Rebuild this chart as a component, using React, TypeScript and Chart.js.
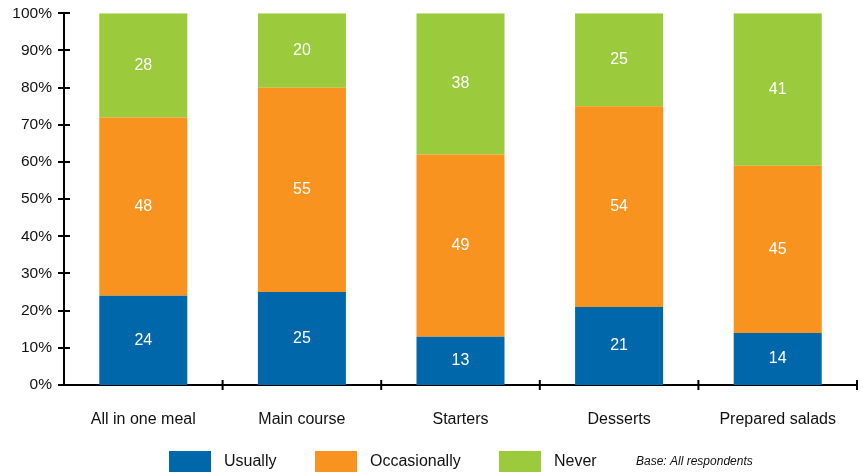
import React, { useEffect, useRef } from "react";
import { Chart, registerables } from "chart.js";

Chart.register(...registerables);

const categories = ["All in one meal", "Main course", "Starters", "Desserts", "Prepared salads"];
const seriesNames = ["Usually", "Occasionally", "Never"];
const usually = [24, 25, 13, 21, 14];
const occasionally = [48, 55, 49, 54, 45];
const never = [28, 20, 38, 25, 41];
const colors = ["#0167AB", "#F7931E", "#9BCA3C"];
const yTickValues = [0, 10, 20, 30, 40, 50, 60, 70, 80, 90, 100];
const footnote = "Base: All respondents";

const FONT = "'Liberation Sans', Arial, Helvetica, sans-serif";

const axisPlugin = {
  id: "axisTicks",
  afterDraw(chart: any) {
    const ctx = chart.ctx;
    const { left, bottom } = chart.chartArea;
    const ys = chart.scales.y;
    const xs = chart.scales.x;
    ctx.save();
    ctx.strokeStyle = "#000";
    ctx.lineWidth = 2;
    ys.ticks.forEach((t: any) => {
      const py = Math.round(ys.getPixelForValue(t.value));
      ctx.beginPath();
      ctx.moveTo(left - 6, py);
      ctx.lineTo(left + 6, py);
      ctx.stroke();
    });
    const n = categories.length;
    for (let i = 1; i <= n; i++) {
      const px = xs.left + (i * (xs.right - xs.left)) / n;
      ctx.beginPath();
      ctx.moveTo(px, bottom - 5);
      ctx.lineTo(px, bottom + 5);
      ctx.stroke();
    }
    ctx.restore();
  },
};

const labelPlugin = {
  id: "segLabels",
  afterDatasetsDraw(chart: any) {
    const ctx = chart.ctx;
    ctx.save();
    ctx.fillStyle = "#fff";
    ctx.font = `16px ${FONT}`;
    ctx.textAlign = "center";
    ctx.textBaseline = "middle";
    chart.data.datasets.forEach((ds: any, di: number) => {
      const meta = chart.getDatasetMeta(di);
      meta.data.forEach((el: any, i: number) => {
        const v = ds.data[i];
        ctx.fillText(String(v), el.x, (el.y + el.base) / 2);
      });
    });
    ctx.restore();
  },
};

const legendPlugin = {
  id: "customLegend",
  afterDraw(chart: any) {
    const ctx = chart.ctx;
    const boxX = [169, 315, 499];
    const y = 451;
    ctx.save();
    chart.data.datasets.forEach((ds: any, i: number) => {
      ctx.fillStyle = ds.backgroundColor;
      ctx.fillRect(boxX[i], y, 42, 21);
      ctx.fillStyle = "#111";
      ctx.font = `16px ${FONT}`;
      ctx.textAlign = "left";
      ctx.textBaseline = "middle";
      ctx.fillText(ds.label, boxX[i] + 55, y + 11);
    });
    ctx.font = `italic 12px ${FONT}`;
    ctx.fillStyle = "#111";
    ctx.textBaseline = "middle";
    ctx.fillText(footnote, 636, y + 11);
    ctx.restore();
  },
};

export default function App() {
  const ref = useRef<HTMLCanvasElement>(null);
  useEffect(() => {
    document.body.style.margin = "0";
    const values = [usually, occasionally, never];
    const chart = new Chart(ref.current!, {
      type: "bar",
      data: {
        labels: categories,
        datasets: seriesNames.map((name, i) => ({
          label: name,
          data: values[i],
          backgroundColor: colors[i],
          borderWidth: 0,
          categoryPercentage: 1,
          barPercentage: 0.555,
        })),
      },
      options: {
        animation: false,
        responsive: false,
        maintainAspectRatio: false,
        layout: { padding: { left: 0, top: 13, right: 6, bottom: 0 } },
        plugins: { legend: { display: false }, tooltip: { enabled: false } },
        scales: {
          x: {
            stacked: true,
            grid: { display: false },
            border: { display: true, color: "#000", width: 2 },
            ticks: { color: "#111", font: { size: 16, family: FONT }, padding: 17, maxRotation: 0 },
            afterFit(scale: any) {
              scale.height = 87;
            },
          },
          y: {
            stacked: true,
            min: 0,
            max: 100,
            grid: { display: false },
            border: { display: true, color: "#000", width: 2 },
            afterBuildTicks(scale: any) {
              scale.ticks = yTickValues.map((v) => ({ value: v }));
            },
            ticks: {
              color: "#111",
              font: { size: 15.5, family: FONT },
              padding: 4,
              callback: (v: any) => `${v}%`,
            },
            afterFit(scale: any) {
              scale.width = 64;
            },
          },
        },
      },
      plugins: [axisPlugin, labelPlugin, legendPlugin],
    });
    return () => chart.destroy();
  }, []);
  return (
    <div style={{ position: "fixed", left: 0, top: 0, width: 863, height: 472 }}>
      <canvas ref={ref} width={863} height={472} style={{ width: 863, height: 472 }} />
    </div>
  );
}
